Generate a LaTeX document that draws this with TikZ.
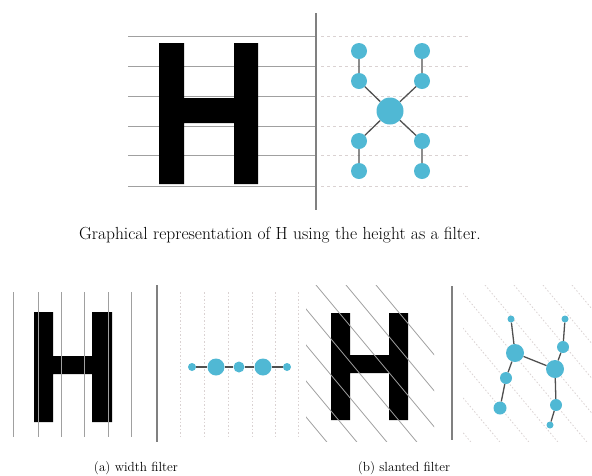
\documentclass[tikz,border=0pt]{standalone}
\usetikzlibrary{positioning}
\definecolor{dotblue}{RGB}{80,184,212}
\definecolor{linkgray}{RGB}{80,80,80}
\definecolor{rulegray}{RGB}{160,160,160}
\definecolor{faintgray}{RGB}{218,210,210}
\tikzset{
    dot/.style={circle, fill=dotblue, inner sep=0pt, minimum size=#1},
    link/.style={draw=linkgray, line width=1.3pt},
    rule/.style={draw=rulegray, line width=0.9pt},
    faint/.style={draw=faintgray, line width=0.8pt, dash pattern=on 3pt off 3pt},
    divider/.style={draw=gray, line width=1.2pt},
    caption/.style={font=\fontsize{13.2}{16}\selectfont, inner sep=0pt}
}
\begin{document}
\begin{tikzpicture}[x=1pt, y=-1pt]
    \useasboundingbox (0,0) rectangle (592,475);

    %height filter: rules, letter and divider
        \foreach \y in {36,66,96,126,155,186}
            \draw[rule] (128,\y) -- (315,\y);
        \fill (159,43) -- (184,43) -- (184,98) -- (234,98) -- (234,43) -- (258,43) -- (258,184)
            -- (234,184) -- (234,123) -- (184,123) -- (184,184) -- (159,184) -- cycle;
        \draw[divider] (316,13) -- (316,210);
        \foreach \y in {36,66,96,126,155,186}
            \draw[faint] (321,\y) -- (470,\y);

    %height filter: graph
        \node[dot=16pt] (hL1) at (359,51) {};
        \node[dot=16pt] (hL2) at (359,81) {};
        \node[dot=16pt] (hL3) at (359,141) {};
        \node[dot=16pt] (hL4) at (359,171) {};
        \node[dot=16pt] (hR1) at (422,51) {};
        \node[dot=16pt] (hR2) at (422,81) {};
        \node[dot=16pt] (hR3) at (422,141) {};
        \node[dot=16pt] (hR4) at (422,171) {};
        \node[dot=27pt] (hC) at (390,111) {};
        \draw[link] (hL1) -- (hL2) -- (hC) -- (hL3) -- (hL4);
        \draw[link] (hR1) -- (hR2) -- (hC) -- (hR3) -- (hR4);

        \node[caption, font=\fontsize{17.5}{20}\selectfont] (capH) at (280,235) {Graphical representation of H using the height as a filter.};

    %width filter: letter, rules on top, divider
        \fill (34,312) -- (53,312) -- (53,356) -- (92,356) -- (92,312) -- (112,312) -- (112,422)
            -- (92,422) -- (92,374) -- (53,374) -- (53,422) -- (34,422) -- cycle;
        \foreach \x in {13,38,61,84,108,131}
            \draw[rule] (\x,292) -- (\x,437);
        \draw[divider] (157,285) -- (157,442);
        \foreach \x in {180,204,228,252,275,298}
            \draw[faint, dash pattern=on 1.5pt off 2pt] (\x,292) -- (\x,437);

    %width filter: graph
        \node[dot=8pt] (w1) at (192,367) {};
        \node[dot=17pt] (w2) at (216,367) {};
        \node[dot=11pt] (w3) at (239,367) {};
        \node[dot=17pt] (w4) at (263,367) {};
        \node[dot=8pt] (w5) at (287,367) {};
        \draw[link] (w1) -- (w2) -- (w3) -- (w4) -- (w5);

        \node[caption] (capA) at (136,468) {(a) width filter};

    %slanted filter: letter, rules on top, divider
        \fill (331,313) -- (350,313) -- (350,355) -- (389,355) -- (389,313) -- (408,313) -- (408,420)
            -- (389,420) -- (389,373) -- (350,373) -- (350,420) -- (331,420) -- cycle;
        \begin{scope}
            \clip (306,285) rectangle (434,441);
            \foreach \x in {196,226,...,400}
                \draw[rule, line width=0.8pt] (\x,285) -- ++(135,162);
        \end{scope}
        \draw[divider] (452,286) -- (452,440);
        \begin{scope}
            \clip (463,285) rectangle (592,441);
            \foreach \x in {340,369,...,600}
                \draw[faint, dash pattern=on 1.5pt off 2pt] (\x,285) -- ++(135,162);
        \end{scope}

    %slanted filter: graph
        \node[dot=7pt] (sL1) at (511,319) {};
        \node[dot=18pt] (sL2) at (515,353) {};
        \node[dot=12pt] (sL3) at (506,378) {};
        \node[dot=13pt] (sL4) at (500,408) {};
        \node[dot=7pt] (sR1) at (565,319) {};
        \node[dot=12pt] (sR2) at (563,347) {};
        \node[dot=18pt] (sR3) at (555,369) {};
        \node[dot=12pt] (sR4) at (556,405) {};
        \node[dot=7pt] (sR5) at (550,425) {};
        \draw[link] (sL1) -- (sL2) -- (sL3) -- (sL4);
        \draw[link] (sR1) -- (sR2) -- (sR3) -- (sR4) -- (sR5);
        \draw[link] (sL2) -- (sR3);

        \node[caption] (capB) at (404,468) {(b) slanted filter};
\end{tikzpicture}
\end{document}
